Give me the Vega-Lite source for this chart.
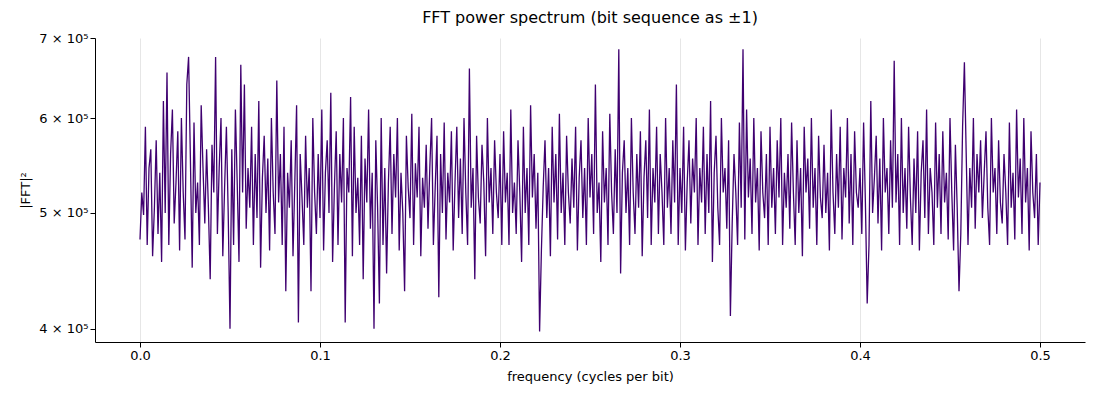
{
"$schema":"https://vega.github.io/schema/vega-lite/v6.json",
"width":990,"height":304,"autosize":"none",
"padding":{"left":95,"top":38,"right":15,"bottom":58},
"background":"white",
"title":{"text":"FFT power spectrum (bit sequence as ±1)","font":"DejaVu Sans","fontSize":16,"fontWeight":"normal","offset":6},
"data":{"values":[
{"f":0.000,"p":475},{"f":0.001,"p":520},{"f":0.002,"p":498},{"f":0.003,"p":590},{"f":0.004,"p":470},{"f":0.005,"p":545},{"f":0.006,"p":565},{"f":0.007,"p":460},{"f":0.008,"p":505},{"f":0.009,"p":575},
{"f":0.010,"p":480},{"f":0.011,"p":540},{"f":0.012,"p":455},{"f":0.013,"p":620},{"f":0.014,"p":500},{"f":0.015,"p":655},{"f":0.016,"p":470},{"f":0.017,"p":560},{"f":0.018,"p":610},{"f":0.019,"p":490},
{"f":0.020,"p":530},{"f":0.021,"p":585},{"f":0.022,"p":465},{"f":0.023,"p":600},{"f":0.024,"p":520},{"f":0.025,"p":475},{"f":0.026,"p":640},{"f":0.027,"p":675},{"f":0.028,"p":555},{"f":0.029,"p":450},
{"f":0.030,"p":595},{"f":0.031,"p":500},{"f":0.032,"p":530},{"f":0.033,"p":470},{"f":0.034,"p":615},{"f":0.035,"p":545},{"f":0.036,"p":490},{"f":0.037,"p":565},{"f":0.038,"p":505},{"f":0.039,"p":440},
{"f":0.040,"p":570},{"f":0.041,"p":520},{"f":0.042,"p":675},{"f":0.043,"p":480},{"f":0.044,"p":545},{"f":0.045,"p":600},{"f":0.046,"p":460},{"f":0.047,"p":525},{"f":0.048,"p":590},{"f":0.049,"p":500},
{"f":0.050,"p":400},{"f":0.051,"p":565},{"f":0.052,"p":470},{"f":0.053,"p":610},{"f":0.054,"p":530},{"f":0.055,"p":455},{"f":0.056,"p":665},{"f":0.057,"p":520},{"f":0.058,"p":640},{"f":0.059,"p":485},
{"f":0.060,"p":545},{"f":0.061,"p":505},{"f":0.062,"p":590},{"f":0.063,"p":470},{"f":0.064,"p":560},{"f":0.065,"p":495},{"f":0.066,"p":620},{"f":0.067,"p":450},{"f":0.068,"p":535},{"f":0.069,"p":580},
{"f":0.070,"p":500},{"f":0.071,"p":555},{"f":0.072,"p":465},{"f":0.073,"p":600},{"f":0.074,"p":520},{"f":0.075,"p":480},{"f":0.076,"p":645},{"f":0.077,"p":510},{"f":0.078,"p":560},{"f":0.079,"p":470},
{"f":0.080,"p":590},{"f":0.081,"p":430},{"f":0.082,"p":540},{"f":0.083,"p":505},{"f":0.084,"p":575},{"f":0.085,"p":460},{"f":0.086,"p":530},{"f":0.087,"p":615},{"f":0.088,"p":405},{"f":0.089,"p":560},
{"f":0.090,"p":515},{"f":0.091,"p":470},{"f":0.092,"p":580},{"f":0.093,"p":505},{"f":0.094,"p":545},{"f":0.095,"p":430},{"f":0.096,"p":600},{"f":0.097,"p":520},{"f":0.098,"p":480},{"f":0.099,"p":560},
{"f":0.100,"p":495},{"f":0.101,"p":610},{"f":0.102,"p":465},{"f":0.103,"p":540},{"f":0.104,"p":575},{"f":0.105,"p":500},{"f":0.106,"p":630},{"f":0.107,"p":455},{"f":0.108,"p":525},{"f":0.109,"p":585},
{"f":0.110,"p":470},{"f":0.111,"p":560},{"f":0.112,"p":510},{"f":0.113,"p":600},{"f":0.114,"p":405},{"f":0.115,"p":545},{"f":0.116,"p":520},{"f":0.117,"p":625},{"f":0.118,"p":460},{"f":0.119,"p":590},
{"f":0.120,"p":500},{"f":0.121,"p":535},{"f":0.122,"p":470},{"f":0.123,"p":580},{"f":0.124,"p":440},{"f":0.125,"p":555},{"f":0.126,"p":510},{"f":0.127,"p":610},{"f":0.128,"p":485},{"f":0.129,"p":540},
{"f":0.130,"p":400},{"f":0.131,"p":575},{"f":0.132,"p":505},{"f":0.133,"p":420},{"f":0.134,"p":600},{"f":0.135,"p":470},{"f":0.136,"p":545},{"f":0.137,"p":445},{"f":0.138,"p":530},{"f":0.139,"p":590},
{"f":0.140,"p":480},{"f":0.141,"p":560},{"f":0.142,"p":515},{"f":0.143,"p":600},{"f":0.144,"p":465},{"f":0.145,"p":540},{"f":0.146,"p":500},{"f":0.147,"p":430},{"f":0.148,"p":580},{"f":0.149,"p":525},
{"f":0.150,"p":495},{"f":0.151,"p":605},{"f":0.152,"p":470},{"f":0.153,"p":550},{"f":0.154,"p":515},{"f":0.155,"p":590},{"f":0.156,"p":460},{"f":0.157,"p":535},{"f":0.158,"p":505},{"f":0.159,"p":570},
{"f":0.160,"p":485},{"f":0.161,"p":545},{"f":0.162,"p":600},{"f":0.163,"p":470},{"f":0.164,"p":525},{"f":0.165,"p":580},{"f":0.166,"p":425},{"f":0.167,"p":560},{"f":0.168,"p":500},{"f":0.169,"p":595},
{"f":0.170,"p":475},{"f":0.171,"p":540},{"f":0.172,"p":510},{"f":0.173,"p":585},{"f":0.174,"p":465},{"f":0.175,"p":530},{"f":0.176,"p":590},{"f":0.177,"p":495},{"f":0.178,"p":555},{"f":0.179,"p":480},
{"f":0.180,"p":600},{"f":0.181,"p":520},{"f":0.182,"p":470},{"f":0.183,"p":660},{"f":0.184,"p":505},{"f":0.185,"p":545},{"f":0.186,"p":440},{"f":0.187,"p":580},{"f":0.188,"p":515},{"f":0.189,"p":490},
{"f":0.190,"p":570},{"f":0.191,"p":530},{"f":0.192,"p":460},{"f":0.193,"p":600},{"f":0.194,"p":510},{"f":0.195,"p":545},{"f":0.196,"p":480},{"f":0.197,"p":575},{"f":0.198,"p":520},{"f":0.199,"p":495},
{"f":0.200,"p":560},{"f":0.201,"p":470},{"f":0.202,"p":585},{"f":0.203,"p":510},{"f":0.204,"p":540},{"f":0.205,"p":470},{"f":0.206,"p":610},{"f":0.207,"p":500},{"f":0.208,"p":530},{"f":0.209,"p":480},
{"f":0.210,"p":575},{"f":0.211,"p":520},{"f":0.212,"p":455},{"f":0.213,"p":590},{"f":0.214,"p":500},{"f":0.215,"p":545},{"f":0.216,"p":470},{"f":0.217,"p":615},{"f":0.218,"p":515},{"f":0.219,"p":560},
{"f":0.220,"p":485},{"f":0.221,"p":540},{"f":0.222,"p":398},{"f":0.223,"p":465},{"f":0.224,"p":525},{"f":0.225,"p":575},{"f":0.226,"p":495},{"f":0.227,"p":545},{"f":0.228,"p":460},{"f":0.229,"p":590},
{"f":0.230,"p":510},{"f":0.231,"p":560},{"f":0.232,"p":475},{"f":0.233,"p":605},{"f":0.234,"p":500},{"f":0.235,"p":540},{"f":0.236,"p":470},{"f":0.237,"p":580},{"f":0.238,"p":520},{"f":0.239,"p":490},
{"f":0.240,"p":555},{"f":0.241,"p":505},{"f":0.242,"p":590},{"f":0.243,"p":465},{"f":0.244,"p":535},{"f":0.245,"p":575},{"f":0.246,"p":495},{"f":0.247,"p":545},{"f":0.248,"p":470},{"f":0.249,"p":600},
{"f":0.250,"p":515},{"f":0.251,"p":560},{"f":0.252,"p":480},{"f":0.253,"p":640},{"f":0.254,"p":500},{"f":0.255,"p":530},{"f":0.256,"p":455},{"f":0.257,"p":585},{"f":0.258,"p":510},{"f":0.259,"p":545},
{"f":0.260,"p":470},{"f":0.261,"p":605},{"f":0.262,"p":520},{"f":0.263,"p":480},{"f":0.264,"p":565},{"f":0.265,"p":500},{"f":0.266,"p":685},{"f":0.267,"p":445},{"f":0.268,"p":540},{"f":0.269,"p":575},
{"f":0.270,"p":500},{"f":0.271,"p":545},{"f":0.272,"p":470},{"f":0.273,"p":600},{"f":0.274,"p":520},{"f":0.275,"p":480},{"f":0.276,"p":560},{"f":0.277,"p":505},{"f":0.278,"p":585},{"f":0.279,"p":460},
{"f":0.280,"p":535},{"f":0.281,"p":575},{"f":0.282,"p":495},{"f":0.283,"p":610},{"f":0.284,"p":470},{"f":0.285,"p":545},{"f":0.286,"p":510},{"f":0.287,"p":590},{"f":0.288,"p":480},{"f":0.289,"p":560},
{"f":0.290,"p":520},{"f":0.291,"p":470},{"f":0.292,"p":600},{"f":0.293,"p":505},{"f":0.294,"p":545},{"f":0.295,"p":480},{"f":0.296,"p":575},{"f":0.297,"p":510},{"f":0.298,"p":640},{"f":0.299,"p":470},
{"f":0.300,"p":545},{"f":0.301,"p":500},{"f":0.302,"p":590},{"f":0.303,"p":465},{"f":0.304,"p":530},{"f":0.305,"p":575},{"f":0.306,"p":490},{"f":0.307,"p":555},{"f":0.308,"p":520},{"f":0.309,"p":600},
{"f":0.310,"p":470},{"f":0.311,"p":545},{"f":0.312,"p":510},{"f":0.313,"p":590},{"f":0.314,"p":480},{"f":0.315,"p":560},{"f":0.316,"p":500},{"f":0.317,"p":620},{"f":0.318,"p":455},{"f":0.319,"p":540},
{"f":0.320,"p":580},{"f":0.321,"p":505},{"f":0.322,"p":470},{"f":0.323,"p":600},{"f":0.324,"p":520},{"f":0.325,"p":545},{"f":0.326,"p":485},{"f":0.327,"p":575},{"f":0.328,"p":410},{"f":0.329,"p":490},
{"f":0.330,"p":560},{"f":0.331,"p":520},{"f":0.332,"p":470},{"f":0.333,"p":595},{"f":0.334,"p":505},{"f":0.335,"p":685},{"f":0.336,"p":475},{"f":0.337,"p":610},{"f":0.338,"p":515},{"f":0.339,"p":555},
{"f":0.340,"p":480},{"f":0.341,"p":600},{"f":0.342,"p":510},{"f":0.343,"p":545},{"f":0.344,"p":465},{"f":0.345,"p":585},{"f":0.346,"p":520},{"f":0.347,"p":495},{"f":0.348,"p":560},{"f":0.349,"p":470},
{"f":0.350,"p":590},{"f":0.351,"p":505},{"f":0.352,"p":545},{"f":0.353,"p":480},{"f":0.354,"p":575},{"f":0.355,"p":515},{"f":0.356,"p":600},{"f":0.357,"p":470},{"f":0.358,"p":540},{"f":0.359,"p":505},
{"f":0.360,"p":560},{"f":0.361,"p":485},{"f":0.362,"p":595},{"f":0.363,"p":520},{"f":0.364,"p":470},{"f":0.365,"p":575},{"f":0.366,"p":500},{"f":0.367,"p":545},{"f":0.368,"p":460},{"f":0.369,"p":590},
{"f":0.370,"p":520},{"f":0.371,"p":555},{"f":0.372,"p":485},{"f":0.373,"p":600},{"f":0.374,"p":505},{"f":0.375,"p":545},{"f":0.376,"p":470},{"f":0.377,"p":580},{"f":0.378,"p":515},{"f":0.379,"p":495},
{"f":0.380,"p":570},{"f":0.381,"p":500},{"f":0.382,"p":540},{"f":0.383,"p":465},{"f":0.384,"p":610},{"f":0.385,"p":520},{"f":0.386,"p":480},{"f":0.387,"p":560},{"f":0.388,"p":505},{"f":0.389,"p":590},
{"f":0.390,"p":475},{"f":0.391,"p":545},{"f":0.392,"p":515},{"f":0.393,"p":600},{"f":0.394,"p":490},{"f":0.395,"p":560},{"f":0.396,"p":470},{"f":0.397,"p":585},{"f":0.398,"p":520},{"f":0.399,"p":505},
{"f":0.400,"p":545},{"f":0.401,"p":480},{"f":0.402,"p":595},{"f":0.403,"p":510},{"f":0.404,"p":420},{"f":0.405,"p":470},{"f":0.406,"p":620},{"f":0.407,"p":500},{"f":0.408,"p":535},{"f":0.409,"p":580},
{"f":0.410,"p":490},{"f":0.411,"p":555},{"f":0.412,"p":465},{"f":0.413,"p":600},{"f":0.414,"p":520},{"f":0.415,"p":545},{"f":0.416,"p":480},{"f":0.417,"p":575},{"f":0.418,"p":505},{"f":0.419,"p":670},
{"f":0.420,"p":510},{"f":0.421,"p":560},{"f":0.422,"p":470},{"f":0.423,"p":600},{"f":0.424,"p":500},{"f":0.425,"p":545},{"f":0.426,"p":485},{"f":0.427,"p":590},{"f":0.428,"p":515},{"f":0.429,"p":470},
{"f":0.430,"p":555},{"f":0.431,"p":500},{"f":0.432,"p":585},{"f":0.433,"p":465},{"f":0.434,"p":540},{"f":0.435,"p":575},{"f":0.436,"p":495},{"f":0.437,"p":610},{"f":0.438,"p":480},{"f":0.439,"p":545},
{"f":0.440,"p":520},{"f":0.441,"p":470},{"f":0.442,"p":595},{"f":0.443,"p":505},{"f":0.444,"p":560},{"f":0.445,"p":480},{"f":0.446,"p":585},{"f":0.447,"p":510},{"f":0.448,"p":540},{"f":0.449,"p":475},
{"f":0.450,"p":600},{"f":0.451,"p":520},{"f":0.452,"p":465},{"f":0.453,"p":570},{"f":0.454,"p":505},{"f":0.455,"p":430},{"f":0.456,"p":480},{"f":0.457,"p":590},{"f":0.458,"p":668},{"f":0.459,"p":560},
{"f":0.460,"p":470},{"f":0.461,"p":545},{"f":0.462,"p":505},{"f":0.463,"p":600},{"f":0.464,"p":485},{"f":0.465,"p":560},{"f":0.466,"p":520},{"f":0.467,"p":575},{"f":0.468,"p":495},{"f":0.469,"p":540},
{"f":0.470,"p":585},{"f":0.471,"p":505},{"f":0.472,"p":470},{"f":0.473,"p":600},{"f":0.474,"p":520},{"f":0.475,"p":545},{"f":0.476,"p":480},{"f":0.477,"p":575},{"f":0.478,"p":510},{"f":0.479,"p":490},
{"f":0.480,"p":560},{"f":0.481,"p":520},{"f":0.482,"p":470},{"f":0.483,"p":595},{"f":0.484,"p":505},{"f":0.485,"p":540},{"f":0.486,"p":475},{"f":0.487,"p":610},{"f":0.488,"p":515},{"f":0.489,"p":555},
{"f":0.490,"p":480},{"f":0.491,"p":600},{"f":0.492,"p":510},{"f":0.493,"p":545},{"f":0.494,"p":465},{"f":0.495,"p":585},{"f":0.496,"p":520},{"f":0.497,"p":495},{"f":0.498,"p":560},{"f":0.499,"p":470},
{"f":0.500,"p":530}
]},
"mark":{"type":"line","color":"#3f0070","strokeWidth":1.3,"clip":true},
"encoding":{
"x":{"field":"f","type":"quantitative","title":"frequency (cycles per bit)",
"scale":{"domain":[-0.025,0.525],"nice":false,"zero":false},
"axis":{"values":[0,0.1,0.2,0.3,0.4,0.5],"format":".1f","grid":true,"gridColor":"#e6e6e6","domain":true,"domainColor":"black","tickColor":"black","labelFont":"DejaVu Sans","labelFontSize":13,"labelColor":"black","titleFont":"DejaVu Sans","titleFontSize":13,"titleFontWeight":"normal","titleColor":"black","titlePadding":8}},
"y":{"field":"p","type":"quantitative","title":"|FFT|²",
"scale":{"type":"log","domain":[390,700],"nice":false},
"axis":{"values":[400,500,600,700],"labelExpr":"datum.value/100 + ' × 10⁵'","grid":false,"domainColor":"black","tickColor":"black","labelFont":"DejaVu Sans","labelFontSize":13,"labelColor":"black","titleFont":"DejaVu Sans","titleFontSize":13,"titleFontWeight":"normal","titleColor":"black","titlePadding":6}}
},
"config":{"view":{"stroke":null}}
}
